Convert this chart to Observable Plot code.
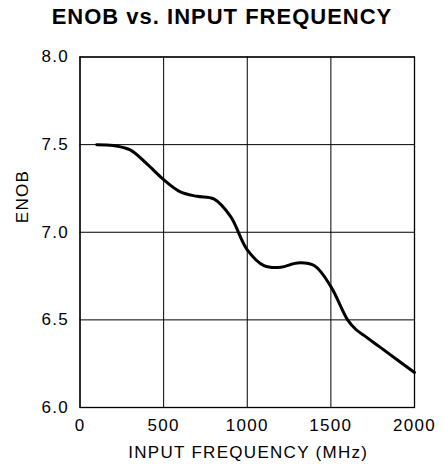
<!DOCTYPE html>
<html>
<head>
<meta charset="utf-8">
<script src="https://cdn.jsdelivr.net/npm/d3@7"></script>
<script src="https://cdn.jsdelivr.net/npm/@observablehq/plot@0.6"></script>
<style>
  html, body { margin: 0; padding: 0; background: #fff; }
  #title { height: 38px; line-height: 38px; text-align: center; font: bold 22px "Liberation Sans", Arial, sans-serif; letter-spacing: 1px; color: #000; width: 444px; }
  #title span { position: relative; top: 4px; }
  #chart svg text { letter-spacing: 1.3px; }
</style>
</head>
<body>
<div id="title"><span>ENOB vs. INPUT FREQUENCY</span></div>
<div id="chart"></div>
<script>
const freqMHz = [100, 200, 300, 400, 500, 600, 700, 800, 900, 1000, 1100, 1200, 1300, 1400, 1500, 1600, 1650, 1700, 1800, 1900, 2000];
const enob    = [7.50, 7.495, 7.47, 7.39, 7.30, 7.23, 7.205, 7.19, 7.09, 6.90, 6.81, 6.80, 6.825, 6.81, 6.69, 6.50, 6.445, 6.41, 6.34, 6.27, 6.20];
const xTicks = [0, 500, 1000, 1500, 2000];
const yTicks = [6.0, 6.5, 7.0, 7.5, 8.0];
const xLabel = "INPUT FREQUENCY (MHz)";
const yLabel = "ENOB";

const data = freqMHz.map((f, i) => ({f, e: enob[i]}));

const chart = Plot.plot({
  width: 444,
  height: 432,
  marginLeft: 79.5,
  marginRight: 30,
  marginTop: 18.5,
  marginBottom: 63,
  style: {fontFamily: "'Liberation Sans', Arial, sans-serif", fontSize: "17px", color: "#000", background: "#fff"},
  x: {domain: [0, 2000]},
  y: {domain: [6, 8]},
  marks: [
    Plot.gridX(xTicks, {stroke: "#000", strokeOpacity: 1, strokeWidth: 1}),
    Plot.gridY(yTicks, {stroke: "#000", strokeOpacity: 1, strokeWidth: 1}),
    Plot.frame({stroke: "#000", strokeWidth: 1.3}),
    Plot.axisX(xTicks, {tickSize: 0, tickPadding: 11, tickFormat: d3.format("d"), label: null, fill: "#000"}),
    Plot.axisY(yTicks, {tickSize: 0, tickPadding: 11, tickFormat: d3.format(".1f"), label: null, fill: "#000"}),
    Plot.text([xLabel], {text: d => d, frameAnchor: "bottom", dy: 50, dx: 1, fill: "#000"}),
    Plot.text([yLabel], {text: d => d, frameAnchor: "left", rotate: -90, dx: -57, dy: -9, fill: "#000"}),
    Plot.line(data, {x: "f", y: "e", stroke: "#000", strokeWidth: 3, curve: "catmull-rom"})
  ]
});
document.getElementById("chart").appendChild(chart);
</script>
</body>
</html>
